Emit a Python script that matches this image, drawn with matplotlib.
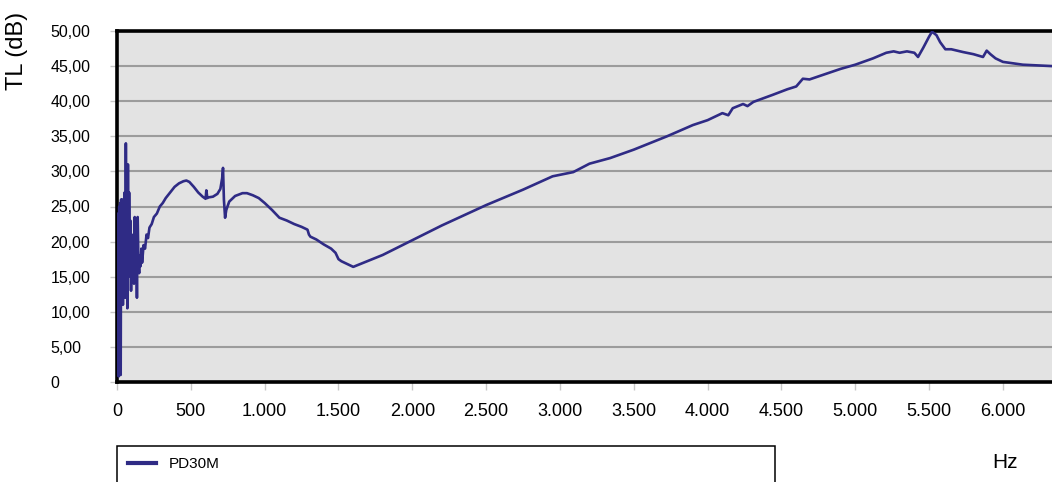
import matplotlib.pyplot as plt
from matplotlib.ticker import FuncFormatter

plt.rcParams['font.family'] = ['Liberation Sans', 'DejaVu Sans']

# Frequenz (Hz) und Schalldaemmung TL (dB)
freq = [0, 5, 8, 12, 15, 18, 22, 25, 28, 32, 36, 40, 44, 48, 52, 56, 60, 63, 66, 70,
        74, 78, 82, 86, 90, 95, 100, 105, 110, 115, 120, 125, 130, 135, 140, 145, 150,
        155, 160, 165, 170, 180, 190, 200, 210, 220, 235, 250, 270, 290, 310, 330, 360,
        390, 420, 450, 470, 490, 520, 550, 580, 600, 605, 612, 620, 650, 680, 700, 712,
        718, 724, 732, 740, 760, 800, 850, 880, 920, 960, 1000, 1050, 1100, 1150, 1200,
        1250, 1290, 1300, 1310, 1350, 1400, 1450, 1480, 1500, 1520, 1560, 1600, 1800,
        2000, 2200, 2500, 2750, 2950, 3090, 3200, 3340, 3500, 3725, 3900, 4000, 4100,
        4140, 4170, 4240, 4270, 4310, 4440, 4540, 4600, 4645, 4690, 4900, 5000, 5120,
        5210, 5260, 5300, 5350, 5400, 5425, 5460, 5500, 5520, 5550, 5575, 5610, 5650,
        5730, 5800, 5865, 5890, 5915, 5950, 6000, 6135, 6332]
tl_pd30m = [17, 1, 24, 0.8, 25, 9, 25.5, 1, 26, 15, 26, 11, 25, 13, 27, 12, 34, 20, 30,
            10.5, 31, 15, 27, 19, 23, 13, 20, 16, 21, 14, 23.5, 16, 21, 12, 23.5, 17,
            15.5, 18, 16.5, 19, 17, 19.5, 19, 21, 20.5, 22, 22.5, 23.5, 24, 25, 25.5,
            26.2, 27, 27.8, 28.3, 28.6, 28.7, 28.5, 27.8, 27, 26.4, 26.1, 27.3, 26.2,
            26.3, 26.4, 26.8, 27.5, 29, 30.5, 26, 23.4, 24.5, 25.7, 26.5, 26.9, 26.9,
            26.6, 26.2, 25.5, 24.5, 23.4, 23, 22.5, 22.1, 21.7, 21, 20.7, 20.3, 19.6,
            19, 18.4, 17.5, 17.2, 16.8, 16.4, 18.1, 20.2, 22.3, 25.2, 27.4, 29.3, 29.9,
            31.1, 31.9, 33.1, 35.0, 36.6, 37.3, 38.3, 38.0, 39.0, 39.6, 39.3, 39.9, 40.9,
            41.7, 42.1, 43.2, 43.1, 44.6, 45.2, 46.1, 46.9, 47.1, 46.9, 47.1, 46.9, 46.3,
            47.6, 49.2, 49.9, 49.4, 48.4, 47.4, 47.4, 47.0, 46.7, 46.3, 47.2, 46.7, 46.1,
            45.6, 45.2, 45.0]

y_ticks = [0, 5, 10, 15, 20, 25, 30, 35, 40, 45, 50]
x_ticks = [0, 500, 1000, 1500, 2000, 2500, 3000, 3500, 4000, 4500, 5000, 5500, 6000]

W, H = 1052, 482
fig = plt.figure(figsize=(W / 100, H / 100), dpi=100)
ax = fig.add_axes([117 / W, (H - 382) / H, (1062 - 117) / W, (382 - 31) / H])
ax.set_facecolor('#e3e3e3')

line, = ax.plot(freq, tl_pd30m, color='#2f2b85', lw=1.9, label='PD30M', zorder=3)

ax.set_xlim(0, 6400)
ax.set_ylim(0, 50)
ax.set_yticks(y_ticks)
ax.set_xticks(x_ticks)
ax.yaxis.set_major_formatter(FuncFormatter(lambda v, p: '0' if v == 0 else f'{v:.2f}'.replace('.', ',')))
ax.xaxis.set_major_formatter(FuncFormatter(lambda v, p: f'{int(v):,}'.replace(',', '.')))

ax.grid(axis='y', color='#9c9c9c', lw=1.5, zorder=1)
ax.set_axisbelow(True)
for s in ['left', 'top', 'bottom']:
    ax.spines[s].set_color('black')
    ax.spines[s].set_linewidth(2.6)
ax.spines['right'].set_visible(False)

ax.tick_params(axis='y', direction='out', length=5, color='#c8c8c8', width=1,
               labelsize=11.5, pad=43)
for lab in ax.get_yticklabels():
    lab.set_horizontalalignment('left')
ax.tick_params(axis='x', direction='out', length=6, color='#c8c8c8', width=1,
               labelsize=13, pad=9)

fig.text(17 / W, 1 - 51 / H, 'TL (dB)', rotation=90, ha='center', va='center', fontsize=17)
fig.text(1005 / W, 1 - 463 / H, 'Hz', ha='center', va='center', fontsize=15)

leg = fig.legend(handles=[line], loc='upper left', mode='expand',
                 bbox_to_anchor=(117 / W, 0, (775 - 117) / W, 1 - 446 / H),
                 fontsize=11, borderpad=0.75, handlelength=1.8, handletextpad=0.85,
                 fancybox=False, framealpha=1, borderaxespad=0)
leg.get_frame().set_edgecolor('black')
leg.get_frame().set_linewidth(1.1)
leg.get_lines()[0].set_linewidth(3)

fig.savefig('out.png', dpi=100)
